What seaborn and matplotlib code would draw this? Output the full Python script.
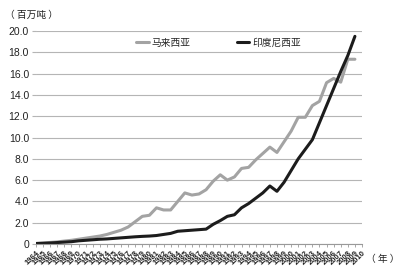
import matplotlib
matplotlib.use("Agg")
import matplotlib.pyplot as plt
import seaborn as sns
import numpy as np
import pandas as pd
from matplotlib.lines import Line2D

years = list(range(1964, 2011))  # tick labels (47)
malaysia = [0.05, 0.1, 0.15, 0.2, 0.28, 0.35, 0.45, 0.55, 0.65, 0.75,
            0.9, 1.1, 1.3, 1.6, 2.1, 2.6, 2.7, 3.4, 3.2, 3.2,
            4.0, 4.8, 4.6, 4.7, 5.1, 5.9, 6.5, 6.0, 6.3, 7.1,
            7.2, 7.9, 8.5, 9.1, 8.6, 9.6, 10.6, 11.9, 11.9, 13.0,
            13.4, 15.15, 15.55, 15.2, 17.35, 17.35]
indonesia = [0.05, 0.07, 0.1, 0.14, 0.18, 0.22, 0.3, 0.35, 0.4, 0.45,
             0.48, 0.53, 0.58, 0.63, 0.68, 0.72, 0.75, 0.8, 0.9, 1.0,
             1.2, 1.25, 1.3, 1.35, 1.4, 1.85, 2.2, 2.6, 2.75, 3.4,
             3.8, 4.3, 4.8, 5.45, 4.95, 5.8, 6.9, 8.0, 8.9, 9.8,
             11.4, 13.0, 14.6, 16.2, 17.7, 19.5]
series_names = ["马来西亚", "印度尼西亚"]
y_ticks = [0, 2, 4, 6, 8, 10, 12, 14, 16, 18, 20]
y_tick_labels = ["0", "2.0", "4.0", "6.0", "8.0", "10.0", "12.0", "14.0", "16.0", "18.0", "20.0"]

n = len(malaysia)
df = pd.DataFrame({
    "idx": list(range(n)) * 2,
    "value": malaysia + indonesia,
    "country": [series_names[0]] * n + [series_names[1]] * n,
})

sns.set_theme(style="white")
plt.rcParams["font.family"] = ["Liberation Sans", "Noto Sans CJK SC", "DejaVu Sans"]

fig = plt.figure(figsize=(4.0, 2.77), dpi=100)
ax = fig.add_axes([0.09, 0.119, 0.815, 0.769])

sns.lineplot(data=df, x="idx", y="value", hue="country",
             palette={series_names[0]: "#a3a3a3", series_names[1]: "#1c1c1c"},
             linewidth=2.2, ax=ax, legend=False)

ax.set_xlim(0, len(years) - 1)
ax.set_ylim(0, 20)
ax.set_yticks(y_ticks)
ax.set_yticklabels(y_tick_labels, fontsize=7.5, color="#222222")
ax.set_xticks(range(len(years)))
ax.set_xticklabels([str(y) for y in years], rotation=45, ha="right",
                   rotation_mode="anchor", fontsize=5.5, color="#222222",
                   fontweight="bold")
ax.grid(axis="y", color="#b5b5b5", linewidth=0.8)
ax.set_axisbelow(True)
for s in ["top", "right", "left"]:
    ax.spines[s].set_visible(False)
ax.spines["bottom"].set_color("#999999")
ax.spines["bottom"].set_linewidth(0.8)
ax.tick_params(axis="x", length=2.5, width=0.6, color="#999999", pad=1.5, direction="out", bottom=True)
ax.tick_params(axis="y", length=3, width=0.8, color="#b5b5b5", pad=2, left=True)
ax.set_xlabel("")
ax.set_ylabel("")

handles = [Line2D([0], [0], color="#a3a3a3", lw=2.2),
           Line2D([0], [0], color="#1c1c1c", lw=2.2)]
ax.legend(handles, series_names, ncol=2, loc="center",
          bbox_to_anchor=(0.56, 0.945), frameon=False,
          handlelength=1.3, handletextpad=0.3, columnspacing=4.7,
          prop={"family": ["Noto Sans CJK SC"], "size": 7})

fig.text(0.012, 0.935, "（ 百万吨 ）", fontsize=7, family=["Noto Sans CJK SC"], color="#222222")
fig.text(0.915, 0.055, "（ 年 ）", fontsize=7, family=["Noto Sans CJK SC"], color="#222222")

fig.savefig("out.png", dpi=100)
